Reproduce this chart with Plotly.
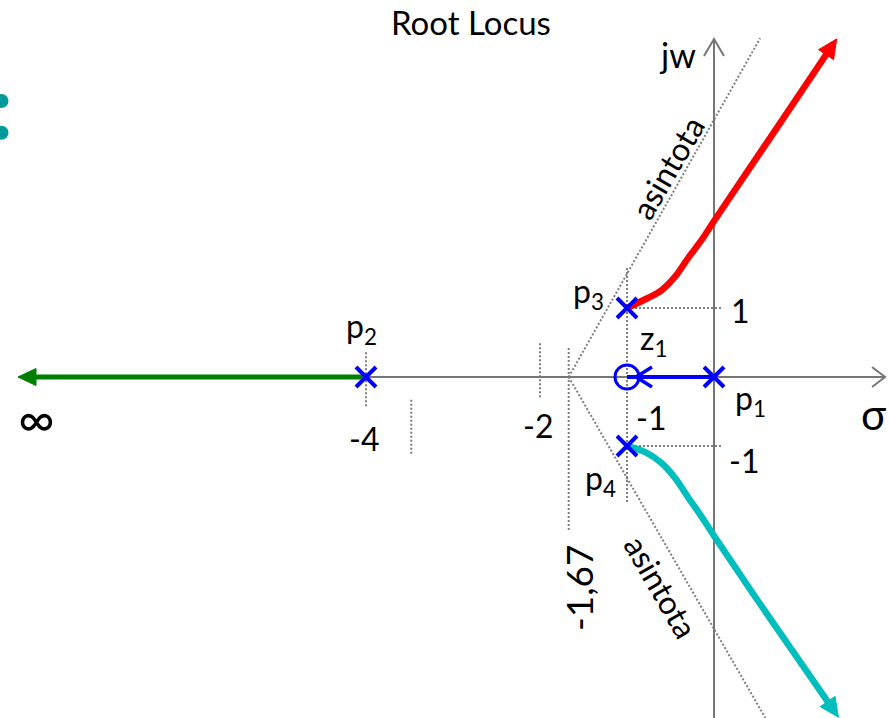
import math
import plotly.graph_objects as go

# ---- root locus data (sigma = real part, jw = imaginary part) ----
pole_sigma = [0.0, -4.0, -1.0, -1.0]
pole_jw = [0.0, 0.0, 1.0, -1.0]
zero_sigma = [-1.0]
zero_jw = [0.0]
centroid = -1.67

# branch p3 -> infinity (upper)
red_sigma = [-1.0, -0.76, -0.60, -0.45, -0.30, -0.14, 0.01, 0.76, 1.41]
red_jw = [1.0, 1.145, 1.26, 1.45, 1.72, 1.99, 2.28, 3.68, 4.90]
# branch p4 -> infinity (lower)
teal_sigma = [-1.0, -0.79, -0.60, -0.45, -0.30, -0.14, 0.01, 0.53, 1.43]
teal_jw = [-1.0, -1.09, -1.25, -1.46, -1.74, -2.03, -2.32, -3.29, -4.93]
# branch p2 -> -infinity along the real axis
green_sigma = [-4.0, -8.0]
green_jw = [0.0, 0.0]
# branch p1 -> z1
blue_sigma = [0.0, -1.0]

# asymptote end points (start at the centroid)
asym_up = (0.53, 4.91)
asym_dn = (0.59, -4.94)

# dotted guides: (sigma, jw_top, jw_bottom)
v_guides = [(-1.67, 0.42, -2.22), (-1.0, 1.58, -1.81), (-2.0, 0.49, -0.32),
            (-4.0, 0.36, -0.45), (-3.48, -0.33, -1.14)]
# dotted guides: (jw, sigma_left, sigma_right)
h_guides = [(1.0, -1.0, 0.10), (-1.0, -1.0, 0.10)]

# axes extents
re_axis = (-8.0, 1.966)
im_axis = (-5.2, 4.90)

# layout geometry: pixels per unit along each axis
W, H = 889, 718
SX, SY = 87.0, 69.0
ORIGIN_PX = (714, 377)
x_range = [-ORIGIN_PX[0] / SX, (W - ORIGIN_PX[0]) / SX]
y_range = [-(H - ORIGIN_PX[1]) / SY, ORIGIN_PX[1] / SY]

GRAY = "#767676"
DOT = "#7f7f7f"
BLUE = "#0000ff"
RED = "#ff0000"
TEAL = "#00bebe"
GREEN = "#008000"
FONT = "Lato, Open Sans, sans-serif"

fig = go.Figure()


def line(xs, ys, color, width, dash=None, shape="linear"):
    fig.add_trace(go.Scatter(x=xs, y=ys, mode="lines", hoverinfo="skip",
                             line=dict(color=color, width=width, dash=dash, shape=shape)))


def chevron(x, y, back_px, half_px, direction, color, width):
    """Open arrow head with tip at (x, y); direction in {'left','right','up'}."""
    bx, hx = back_px / SX, half_px / SX
    by, hy = back_px / SY, half_px / SY
    if direction == "right":
        xs, ys = [x - bx, x, x - bx], [y + hy, y, y - hy]
    elif direction == "left":
        xs, ys = [x + bx, x, x + bx], [y + hy, y, y - hy]
    else:
        xs, ys = [x - hx, x, x + hx], [y - by, y, y - by]
    line(xs, ys, color, width)


def filled_head(xs, ys, length_px, half_px, color):
    """Solid triangular head at the last point of a branch, aligned with its last segment."""
    dxp = (xs[-1] - xs[-2]) * SX
    dyp = (ys[-1] - ys[-2]) * SY
    n = math.hypot(dxp, dyp)
    ux, uy = dxp / n, dyp / n
    bx, by = -ux * length_px, -uy * length_px
    px_, py_ = -uy * half_px, ux * half_px
    tx = [xs[-1], xs[-1] + (bx + px_) / SX, xs[-1] + (bx - px_) / SX, xs[-1]]
    ty = [ys[-1], ys[-1] + (by + py_) / SY, ys[-1] + (by - py_) / SY, ys[-1]]
    fig.add_trace(go.Scatter(x=tx, y=ty, mode="lines", fill="toself", fillcolor=color,
                             hoverinfo="skip", line=dict(color=color, width=1)))


def trimmed(xs, ys, px):
    """Shorten the last segment by px pixels so the line stops inside the arrow head."""
    dxp = (xs[-1] - xs[-2]) * SX
    dyp = (ys[-1] - ys[-2]) * SY
    n = math.hypot(dxp, dyp)
    return (xs[:-1] + [xs[-1] - dxp / n * px / SX],
            ys[:-1] + [ys[-1] - dyp / n * px / SY])


# dotted construction lines
for sx, y0, y1 in v_guides:
    line([sx, sx], [y0, y1], DOT, 2, dash="2px,2px")
for jy, x0, x1 in h_guides:
    line([x0, x1], [jy, jy], DOT, 2, dash="2px,2px")
line([centroid, asym_up[0]], [0, asym_up[1]], DOT, 2, dash="2px,2px")
line([centroid, asym_dn[0]], [0, asym_dn[1]], DOT, 2, dash="2px,2px")

# axes with open arrow heads
line(list(re_axis), [0, 0], GRAY, 2)
line([0, 0], list(im_axis), GRAY, 2)
chevron(re_axis[1], 0, 13, 10, "right", GRAY, 2)
chevron(0, im_axis[1], 17, 10, "up", GRAY, 2)

# locus branches
gx, gy = trimmed(green_sigma, green_jw, 10)
line(gx, gy, GREEN, 5)
filled_head(green_sigma, green_jw, 18, 8.5, GREEN)

line(blue_sigma, [0, 0], BLUE, 4)
chevron(zero_sigma[0] + 9 / SX, 0, 16, 10, "left", BLUE, 3.5)

rx, ry = trimmed(red_sigma, red_jw, 10)
line(rx, ry, RED, 6.5, shape="spline")
filled_head(red_sigma, red_jw, 19, 9, RED)

tx, ty = trimmed(teal_sigma, teal_jw, 10)
line(tx, ty, TEAL, 6.5, shape="spline")
filled_head(teal_sigma, teal_jw, 19, 9, TEAL)

# poles and zero
fig.add_trace(go.Scatter(x=pole_sigma, y=pole_jw, mode="markers", hoverinfo="skip",
                         marker=dict(symbol="x-thin", size=20,
                                     line=dict(color=BLUE, width=4))))
fig.add_trace(go.Scatter(x=zero_sigma, y=zero_jw, mode="markers", hoverinfo="skip",
                         marker=dict(symbol="circle-open", size=24, color=BLUE,
                                     line=dict(color=BLUE, width=3))))

# bullet dots at the left edge
fig.add_trace(go.Scatter(x=[-8.19, -8.19], y=[4.0, 3.54], mode="markers", hoverinfo="skip",
                         marker=dict(size=14, color="#009999")))

# labels
labels = [
    ("jw", -0.414, 4.667, 0, 34),
    ("σ", 1.839, -0.536, 0, 42),
    ("∞", -7.793, -0.594, 0, 50),
    ("p<sub>2</sub>", -4.057, 0.710, 0, 32),
    ("-4", -4.023, -0.884, 0, 32),
    ("-2", -2.023, -0.696, 0, 32),
    ("-1", -0.724, -0.580, 0, 32),
    ("z<sub>1</sub>", -0.701, 0.536, 0, 32),
    ("p<sub>3</sub>", -1.448, 1.217, 0, 32),
    ("1", 0.299, 0.971, 0, 32),
    ("p<sub>1</sub>", 0.414, -0.333, 0, 32),
    ("-1", 0.345, -1.217, 0, 32),
    ("p<sub>4</sub>", -1.310, -1.493, 0, 32),
    ("-1,67", -1.563, -3.058, -90, 37),
    ("asintota", -0.540, 3.043, -60, 32),
    ("asintota", -0.609, -3.043, 60, 32),
]
for txt, lx, ly, ang, fs in labels:
    fig.add_annotation(x=lx, y=ly, xref="x", yref="y", text=txt, showarrow=False,
                       textangle=ang, font=dict(family=FONT, size=fs, color="black"),
                       xanchor="center", yanchor="middle")

fig.add_annotation(x=471 / W, y=1 - 22 / H, xref="paper", yref="paper", text="Root Locus",
                   showarrow=False, font=dict(family=FONT, size=33, color="black"),
                   xanchor="center", yanchor="middle")

fig.update_layout(
    width=W, height=H, margin=dict(l=0, r=0, t=0, b=0),
    paper_bgcolor="white", plot_bgcolor="white", showlegend=False,
    xaxis=dict(range=x_range, visible=False, fixedrange=True),
    yaxis=dict(range=y_range, visible=False, fixedrange=True),
)

fig.write_html("out.html")
